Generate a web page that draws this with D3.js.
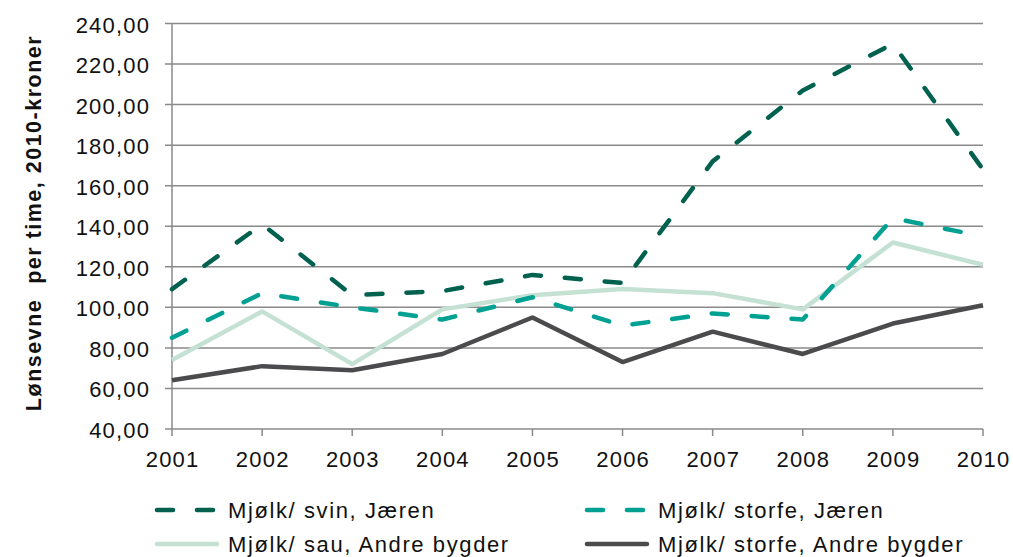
<!DOCTYPE html>
<html><head><meta charset="utf-8">
<script src="https://cdn.jsdelivr.net/npm/d3@7"></script>
<style>body{margin:0;background:#fff}svg{display:block;font-family:"Liberation Sans",Arial,sans-serif}</style>
</head><body><svg id="c" width="1013" height="557"></svg>
<script>
const years = [2001,2002,2003,2004,2005,2006,2007,2008,2009,2010];
const svinJaeren = [109,141,106,108,116,112,172,207,230,168];
const storfeJaeren = [85,107,100,94,105,91,97,94,144,135];
const sauAndre = [74,98,72,99,106,109,107,99,132,121];
const storfeAndre = [64,71,69,77,95,73,88,77,92,101];
const yTicks = [40,60,80,100,120,140,160,180,200,220,240];
const seriesNames = ["Mjølk/ svin, Jæren","Mjølk/ storfe, Jæren","Mjølk/ sau, Andre bygder","Mjølk/ storfe, Andre bygder"];
const yTitle = "Lønsevne  per time, 2010-kroner";

const series = [
  {name:seriesNames[0], values:svinJaeren, color:"#00614f", dash:"16,24"},
  {name:seriesNames[1], values:storfeJaeren, color:"#00a092", dash:"16,24"},
  {name:seriesNames[2], values:sauAndre, color:"#c4e1d3", dash:null},
  {name:seriesNames[3], values:storfeAndre, color:"#4b4b4d", dash:null}
];

const LS = 1.2;
const svg = d3.select("#c");
const x = d3.scaleLinear().domain([2001,2010]).range([172,983]);
const y = d3.scaleLinear().domain([40,240]).range([429,23.5]);

svg.append("g").selectAll("line").data(yTicks).join("line")
  .attr("x1",165).attr("x2",983)
  .attr("y1",d=>y(d)).attr("y2",d=>y(d))
  .attr("stroke","#8a8a8a").attr("stroke-width",1.5);

svg.append("line").attr("x1",172).attr("x2",172).attr("y1",y(240)).attr("y2",y(40))
  .attr("stroke","#8a8a8a").attr("stroke-width",1.5);
svg.append("g").selectAll("line").data(years).join("line")
  .attr("x1",d=>x(d)).attr("x2",d=>x(d)).attr("y1",y(40)).attr("y2",y(40)+7)
  .attr("stroke","#8a8a8a").attr("stroke-width",1.5);

svg.append("g").selectAll("text").data(yTicks).join("text")
  .attr("x",149+LS).attr("y",d=>y(d)+9)
  .attr("text-anchor","end").attr("font-size",22).attr("letter-spacing",LS).attr("fill","#111")
  .text(d=>d3.format(".2f")(d).replace(".",","));
svg.append("g").selectAll("text").data(years).join("text")
  .attr("x",d=>x(d)+LS/2).attr("y",467)
  .attr("text-anchor","middle").attr("font-size",22).attr("letter-spacing",LS).attr("fill","#111")
  .text(d=>d);

svg.append("text").attr("transform","translate(41,223) rotate(-90)")
  .attr("text-anchor","middle").attr("font-size",21.5).attr("font-weight","bold")
  .attr("letter-spacing",1.5)
  .attr("fill","#111").style("white-space","pre").text(yTitle);

const line = d3.line().x((d,i)=>x(years[i])).y(d=>y(d));
[3,2,1,0].forEach(k=>{
  const s = series[k];
  svg.append("path").attr("d",line(s.values)).attr("fill","none")
    .attr("stroke",s.color).attr("stroke-width",4.5)
    .attr("stroke-linecap",s.dash?"round":"butt").attr("stroke-linejoin","round")
    .attr("stroke-dasharray",s.dash);
});

const legPos = [[155,510],[585,510],[155,544],[585,544]];
series.forEach((s,i)=>{
  const [lx,ly] = legPos[i];
  svg.append("line").attr("x1",lx+2).attr("x2",lx+62).attr("y1",ly).attr("y2",ly)
    .attr("stroke",s.color).attr("stroke-width",4.5)
    .attr("stroke-linecap","round").attr("stroke-dasharray",s.dash);
  svg.append("text").attr("x",lx+73).attr("y",ly+8).attr("font-size",22)
    .attr("letter-spacing",1.6).attr("fill","#111").text(s.name);
});
</script></body></html>
